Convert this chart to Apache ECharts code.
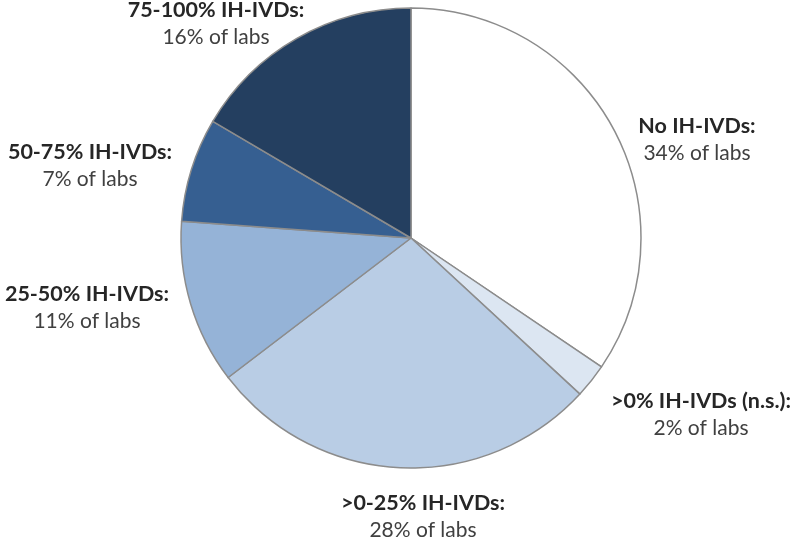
<!DOCTYPE html>
<html>
<head>
<meta charset="utf-8">
<script src="https://cdn.jsdelivr.net/npm/echarts@6/dist/echarts.min.js"></script>
<style>
  html, body { margin: 0; padding: 0; background: #fff; }
  #chart { width: 800px; height: 539px; }
</style>
</head>
<body>
<div id="chart"></div>
<script>
// slice names, in clockwise order from 12 o'clock
const categories = ['No IH-IVDs', '>0% IH-IVDs (n.s.)', '>0-25% IH-IVDs', '25-50% IH-IVDs', '50-75% IH-IVDs', '75-100% IH-IVDs'];
// slice sizes estimated from the angles in the picture
const shares = [34.4, 2.4, 27.7, 11.5, 7.3, 16.5];
// percentages as printed on the labels
const labelPercents = [34, 2, 28, 11, 7, 16];

const sliceColors = ['#ffffff', '#dce6f2', '#b9cde5', '#95b3d7', '#365f91', '#243f60'];
// label centres (x, y) in px
const labelSpots = [[697, 140], [701, 415], [423, 517], [87, 308], [90, 166], [216, 24]];

const chart = echarts.init(document.getElementById('chart'));

chart.setOption({
  animation: false,
  series: [
    {
      type: 'pie',
      center: [411, 238],
      radius: 230,
      startAngle: 90,
      clockwise: true,
      silent: true,
      data: categories.map((name, i) => ({
        name: name,
        value: shares[i],
        itemStyle: { color: sliceColors[i] }
      })),
      itemStyle: {
        borderColor: '#8c8c8c',
        borderWidth: 1.5
      },
      labelLine: { show: false },
      label: {
        show: true,
        position: 'outside',
        overflow: 'none',
        formatter: params => '{b|' + params.name + ':}\n{n|' + labelPercents[params.dataIndex] + '% of labs}',
        rich: {
          b: { fontFamily: 'Lato', fontWeight: 'bold', fontSize: 21.5, color: '#262626', lineHeight: 27, align: 'center' },
          n: { fontFamily: 'Lato', fontSize: 21, color: '#404040', lineHeight: 27, align: 'center' }
        }
      },
      labelLayout: params => ({
        x: labelSpots[params.dataIndex][0],
        y: labelSpots[params.dataIndex][1],
        align: 'center',
        verticalAlign: 'middle',
        hideOverlap: false
      })
    }
  ]
});
</script>
</body>
</html>
